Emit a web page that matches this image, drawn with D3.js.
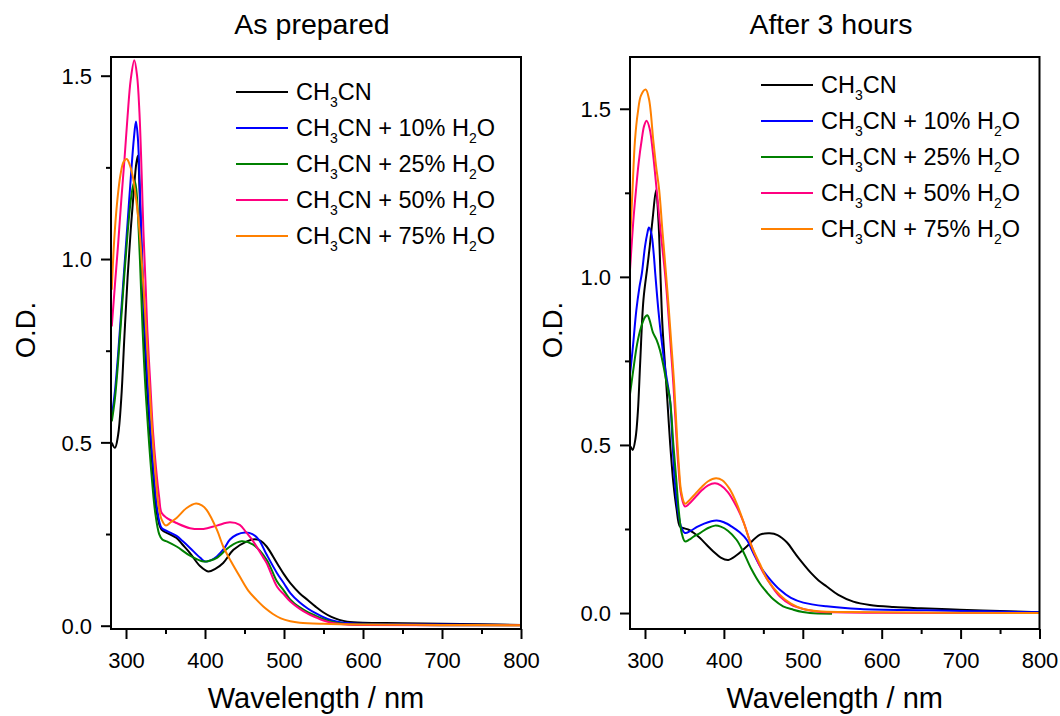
<!DOCTYPE html>
<html><head><meta charset="utf-8">
<script src="https://cdn.jsdelivr.net/npm/d3@7"></script>
<style>
body{margin:0;background:#fff}
svg{display:block}
text{font-family:"Liberation Sans",Arial,Helvetica,sans-serif;fill:#000}
</style>
</head><body>
<svg id="chart" width="1060" height="716"></svg>
<script>
// ---------- data ----------
const seriesLabels = ["CH_3CN", "CH_3CN + 10% H_2O", "CH_3CN + 25% H_2O", "CH_3CN + 50% H_2O", "CH_3CN + 75% H_2O"];
const seriesColors = ["#000000", "#0000ff", "#008000", "#ff0080", "#ff8000"];
const panelTitles = ["As prepared", "After 3 hours"];
const xTicks = [300, 400, 500, 600, 700, 800];
const xTickLabels = ["300", "400", "500", "600", "700", "800"];
const xMinorTicks = [350, 450, 550, 650, 750];
const yTicks = [0, 0.5, 1.0, 1.5];
const yTickLabels = ["0.0", "0.5", "1.0", "1.5"];
const yMinorTicks = [0.25, 0.75, 1.25];
const xDomain = [281, 800];
const yDomainPrep = [-0.009, 1.551];
const yDomainAfter = [-0.0475, 1.654];

// As prepared: [wavelength nm, O.D.]
const prepCH3CN = [[282,0.499],[286,0.485],[290,0.52],[294,0.62],[298,0.79],[302,0.95],[306,1.08],[310,1.19],[313,1.26],[315,1.282],[317,1.2],[319,1.06],[321,0.93],[323,0.81],[326,0.67],[330,0.535],[334,0.42],[339,0.308],[345,0.262],[355,0.25],[364,0.239],[372,0.22],[381,0.198],[394,0.162],[404,0.148],[413,0.155],[423,0.171],[436,0.207],[453,0.23],[463,0.236],[470,0.232],[478,0.216],[491,0.171],[500,0.14],[508,0.116],[520,0.088],[530,0.07],[540,0.052],[550,0.036],[560,0.024],[570,0.016],[580,0.011],[600,0.008],[650,0.007],[700,0.005],[750,0.004],[800,0.002]];
const prepH2O10 = [[282,0.571],[286,0.64],[290,0.74],[294,0.86],[298,0.98],[302,1.1],[306,1.22],[310,1.33],[312.6,1.375],[315,1.33],[318,1.16],[321,0.97],[324,0.807],[328,0.64],[331,0.535],[335,0.42],[340,0.31],[345,0.267],[352,0.258],[364,0.245],[372,0.23],[381,0.212],[394,0.185],[400,0.175],[407,0.178],[415,0.189],[424,0.21],[431.6,0.235],[440,0.248],[450.6,0.254],[460,0.25],[468,0.235],[478,0.194],[491,0.144],[500,0.115],[508,0.089],[520,0.063],[530,0.047],[540,0.034],[550,0.023],[560,0.015],[575,0.008],[600,0.005],[700,0.003],[800,0.002]];
const prepH2O25 = [[282,0.557],[286,0.62],[290,0.72],[294,0.84],[298,0.96],[302,1.07],[306,1.16],[309,1.2],[311,1.212],[313,1.19],[316,1.08],[319,0.92],[321,0.807],[324,0.67],[328,0.535],[332,0.42],[337,0.308],[342,0.25],[346,0.235],[351.5,0.23],[364,0.216],[381,0.191],[398,0.175],[407,0.178],[415,0.185],[431.6,0.216],[446,0.23],[461,0.221],[478,0.18],[491,0.121],[500,0.095],[508,0.071],[520,0.05],[530,0.037],[540,0.027],[550,0.018],[560,0.011],[575,0.005],[600,0.003],[800,0.001]];
const prepH2O50 = [[282,0.816],[286,0.93],[290,1.04],[294,1.16],[298,1.27],[302,1.39],[306,1.49],[310.5,1.542],[314,1.5],[317,1.4],[320,1.22],[322,1.08],[325,0.92],[327,0.807],[331,0.65],[334,0.535],[338,0.43],[342,0.35],[345,0.308],[351.5,0.294],[364,0.28],[381,0.266],[398,0.264],[415,0.273],[431.6,0.282],[444,0.275],[452,0.255],[461,0.23],[474,0.185],[478,0.171],[491,0.107],[500,0.085],[508,0.066],[520,0.046],[530,0.033],[540,0.023],[550,0.014],[560,0.008],[575,0.004],[600,0.002],[800,0.001]];
const prepH2O75 = [[282,0.916],[285,1.05],[289,1.16],[293,1.23],[297,1.265],[301,1.273],[305,1.255],[309,1.22],[313,1.16],[317,1.08],[321,0.96],[324,0.86],[327,0.75],[330,0.64],[333,0.535],[337,0.42],[341,0.33],[345,0.29],[350.6,0.273],[357,0.283],[364,0.294],[376.8,0.321],[388.6,0.333],[396,0.328],[402,0.316],[415,0.262],[423,0.216],[433,0.175],[444,0.134],[455,0.095],[465,0.071],[476,0.048],[486,0.032],[496,0.02],[508,0.012],[520,0.008],[550,0.005],[600,0.003],[700,0.002],[800,0.001]];

// After 3 hours
const afterCH3CN = [[282,0.495],[284.4,0.485],[288,0.52],[291,0.6],[294,0.75],[298,0.931],[303,1.03],[306,1.09],[310,1.18],[314,1.258],[317,1.17],[320,0.98],[322,0.86],[325,0.75],[328.3,0.634],[332,0.5],[336,0.386],[340,0.31],[344.4,0.257],[350,0.252],[356,0.247],[362,0.238],[369.7,0.223],[378,0.203],[386.6,0.183],[396,0.165],[405.6,0.158],[416,0.172],[428.9,0.198],[445.8,0.233],[458,0.237],[468,0.232],[480,0.21],[490,0.178],[496.5,0.158],[510,0.12],[520,0.097],[530.3,0.079],[545,0.054],[564,0.034],[585,0.024],[614.7,0.018],[650,0.014],[699,0.01],[750,0.006],[800,0.002]];
const afterH2O10 = [[281,0.708],[285,0.8],[289,0.9],[293,0.97],[296,1.01],[300,1.09],[303,1.13],[305,1.147],[308,1.13],[311,1.07],[313,1.01],[317,0.9],[321,0.812],[326,0.72],[331.7,0.634],[335,0.5],[338,0.386],[342,0.3],[346,0.255],[350.7,0.238],[358,0.245],[366,0.256],[375,0.266],[384,0.273],[391,0.275],[400,0.27],[410,0.257],[420,0.24],[428.9,0.218],[437,0.18],[445.8,0.14],[455,0.11],[471,0.069],[485,0.045],[500.6,0.031],[530,0.02],[572.5,0.012],[657,0.008],[730,0.005],[800,0.002]];
const afterH2O25 = [[281,0.651],[285,0.72],[290,0.8],[295,0.85],[300,0.88],[303,0.886],[306,0.87],[310,0.835],[314.8,0.812],[319,0.782],[323,0.74],[327,0.69],[331.7,0.634],[336,0.5],[340,0.386],[343,0.3],[346.5,0.238],[350.7,0.213],[356,0.218],[362,0.228],[369.7,0.238],[380,0.253],[388.7,0.26],[396,0.257],[405,0.245],[416,0.218],[425,0.18],[435,0.13],[445.8,0.087],[455,0.06],[463,0.04],[475,0.02],[488,0.01],[500,0.003],[509,0.0],[537,-0.002]];
const afterH2O50 = [[281,1.02],[285,1.16],[288.6,1.258],[292,1.34],[296,1.41],[299,1.45],[302.2,1.464],[306,1.44],[310,1.37],[314.8,1.258],[320,1.13],[325.4,1.01],[329,0.91],[333,0.78],[336,0.68],[339,0.56],[342.3,0.436],[346,0.35],[350.7,0.317],[356,0.325],[364,0.345],[372,0.365],[380,0.38],[388.7,0.386],[396,0.38],[405,0.36],[416,0.317],[425,0.27],[435,0.2],[445.8,0.139],[455,0.1],[471,0.049],[485,0.025],[500.6,0.012],[520,0.004],[540,0.002],[600,0.001],[800,0.0]];
const afterH2O75 = [[281,1.099],[284,1.25],[287.3,1.406],[291,1.49],[295,1.54],[300.9,1.557],[305,1.53],[310.5,1.406],[314,1.33],[318,1.258],[322,1.14],[326.6,1.01],[330,0.91],[334,0.78],[337,0.68],[340,0.55],[343,0.436],[346,0.36],[350.7,0.325],[356,0.335],[364,0.355],[372,0.375],[380,0.392],[390,0.401],[398,0.395],[407,0.37],[416,0.327],[425,0.27],[435,0.2],[445.8,0.145],[455,0.1],[471,0.054],[485,0.028],[500.6,0.012],[520,0.005],[560,0.003],[800,0.0]];

const prepSeries = [prepCH3CN, prepH2O10, prepH2O25, prepH2O50, prepH2O75];
const afterSeries = [afterCH3CN, afterH2O10, afterH2O25, afterH2O50, afterH2O75];

// ---------- drawing ----------
const svg = d3.select("#chart");
svg.append("rect").attr("width", 1060).attr("height", 716).attr("fill", "#fff");

const panels = [
  {title: panelTitles[0], series: prepSeries, yDomain: yDomainPrep, left: 111, right: 521, top: 57, bottom: 629,
   titleX: 312, legX: 236, legY: 92, ylabX: 35},
  {title: panelTitles[1], series: afterSeries, yDomain: yDomainAfter, left: 630, right: 1039.5, top: 57, bottom: 629,
   titleX: 831, legX: 761, legY: 85, ylabX: 562}
];

panels.forEach((p, pi) => {
  const x = d3.scaleLinear().domain(xDomain).range([p.left, p.right]);
  const y = d3.scaleLinear().domain(p.yDomain).range([p.bottom, p.top]);
  const g = svg.append("g");

  const clipId = "clip" + pi;
  svg.append("clipPath").attr("id", clipId).append("rect")
    .attr("x", p.left).attr("y", p.top).attr("width", p.right - p.left).attr("height", p.bottom - p.top);

  // curves
  const line = d3.line().x(d => x(d[0])).y(d => y(d[1])).curve(d3.curveCatmullRom.alpha(0.5));
  const cg = g.append("g").attr("clip-path", `url(#${clipId})`);
  p.series.forEach((s, i) => {
    cg.append("path").attr("d", line(s)).attr("fill", "none")
      .attr("stroke", seriesColors[i]).attr("stroke-width", 2).attr("stroke-linejoin", "round");
  });

  // axes
  const xAxis = d3.axisBottom(x).tickValues(xTicks).tickFormat((d, i) => xTickLabels[i]).tickSize(10).tickPadding(4);
  const xAxisMinor = d3.axisBottom(x).tickValues(xMinorTicks).tickFormat("").tickSize(5);
  const yAxis = d3.axisLeft(y).tickValues(yTicks).tickFormat((d, i) => yTickLabels[i]).tickSize(10).tickPadding(9);
  const yAxisMinor = d3.axisLeft(y).tickValues(yMinorTicks).tickFormat("").tickSize(5);

  const styleAxis = sel => {
    sel.select(".domain").remove();
    sel.selectAll(".tick line").attr("stroke", "#000").attr("stroke-width", 2);
    sel.selectAll(".tick text").style("font-size", "22px").attr("fill", "#000")
       .style("font-family", '"Liberation Sans",Arial,sans-serif');
  };
  g.append("g").attr("transform", `translate(0,${p.bottom})`).call(xAxis).call(styleAxis)
    .selectAll(".tick text").attr("dy", "0").attr("y", 39);
  g.append("g").attr("transform", `translate(0,${p.bottom})`).call(xAxisMinor).call(styleAxis);
  g.append("g").attr("transform", `translate(${p.left},0)`).call(yAxis).call(styleAxis)
    .selectAll(".tick text").attr("dy", "0.36em");
  g.append("g").attr("transform", `translate(${p.left},0)`).call(yAxisMinor).call(styleAxis);

  // frame
  g.append("rect").attr("x", p.left).attr("y", p.top).attr("width", p.right - p.left).attr("height", p.bottom - p.top)
    .attr("fill", "none").attr("stroke", "#000").attr("stroke-width", 2);

  // titles
  g.append("text").attr("x", p.titleX).attr("y", 34).attr("text-anchor", "middle")
    .style("font-size", "28.5px").text(p.title);
  g.append("text").attr("x", (p.left + p.right) / 2).attr("y", 708).attr("text-anchor", "middle")
    .style("font-size", "29px").text("Wavelength / nm");
  g.append("text").attr("transform", `translate(${p.ylabX},330) rotate(-90)`).attr("text-anchor", "middle")
    .style("font-size", "27.5px").text("O.D.");

  // legend
  const leg = g.append("g");
  seriesLabels.forEach((lab, i) => {
    const ly = p.legY + i * 36;
    leg.append("line").attr("x1", p.legX).attr("x2", p.legX + 52).attr("y1", ly).attr("y2", ly)
      .attr("stroke", seriesColors[i]).attr("stroke-width", 2);
    const t = leg.append("text").attr("x", p.legX + 60).attr("y", ly + 8).style("font-size", "23.5px");
    const parts = lab.split(/_(\d)/);
    parts.forEach((part, k) => {
      if (k % 2 === 1) {
        t.append("tspan").attr("dy", 7).style("font-size", "14px").text(part);
      } else if (part.length) {
        const ts = t.append("tspan").text(part);
        if (k > 0) ts.attr("dy", -7);
      }
    });
  });
});
</script>
</body></html>
